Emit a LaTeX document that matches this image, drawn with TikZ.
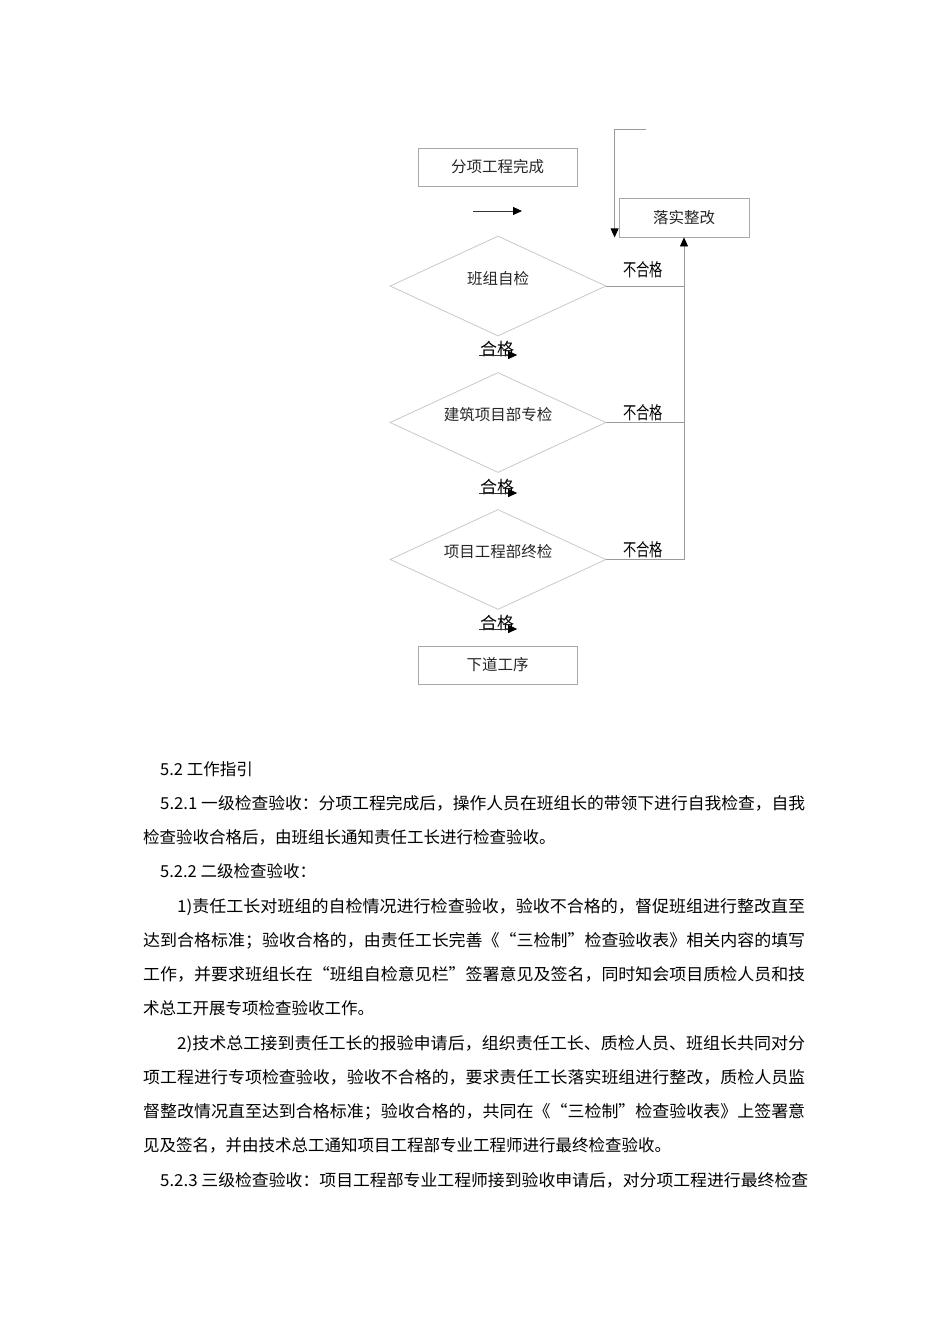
\documentclass[tikz,border=0pt]{standalone}
\usepackage{fontspec}
\setmainfont{Noto Sans CJK SC}
\usepackage{graphicx}
\usetikzlibrary{shapes.geometric,arrows.meta}
\definecolor{boxgray}{HTML}{A8A8A8}
\definecolor{dmdgray}{HTML}{C8C8C8}
\definecolor{linegray}{HTML}{9A9A9A}
\newcommand\fitline[2]{\resizebox{#1}{\height}{#2}}
\tikzset{
  stepbox/.style={draw=boxgray, line width=0.8pt, minimum width=159pt, minimum height=38pt, inner sep=0pt,
    font=\fontsize{15.5}{16}\selectfont, text=black!85},
  chkbox/.style={diamond, draw=dmdgray, line width=0.8pt, aspect=2.16, minimum width=216pt, minimum height=100pt,
    inner sep=0pt, text height=12pt, text depth=16pt, font=\fontsize{15.5}{16}\selectfont, text=black!85},
  failtxt/.style={inner sep=0pt, font=\fontsize{17}{17}\selectfont},
  passtxt/.style={anchor=base, inner sep=0pt, font=\fontsize{17}{17}\selectfont},
  bodytxt/.style={anchor=base west, inner sep=0pt, font=\fontsize{16.5}{17}\selectfont},
  blk/.style={line width=0.8pt, -{Triangle[length=9pt,width=8pt,color=black]}}
}
\begin{document}
\begin{tikzpicture}[x=1pt,y=-1pt]
\useasboundingbox (0,0) rectangle (950,1344);
% flow chart
\node[stepbox] (start) at (497.5,167) {分项工程完成};
\node[stepbox, minimum width=130pt, minimum height=39pt] (fix) at (684,217.5) {落实整改};
\node[chkbox] (chk1) at (498,286) {班组自检};
\node[chkbox] (chk2) at (498,422.5) {建筑项目部专检};
\node[chkbox] (chk3) at (498,559.5) {项目工程部终检};
\node[stepbox] (next) at (497.5,665) {下道工序};
\node[failtxt] (fail1) at (643,270) {\scalebox{0.78}[1.05]{不合格}};
\node[failtxt] (fail2) at (643,413) {\scalebox{0.78}[1.05]{不合格}};
\node[failtxt] (fail3) at (643,550) {\scalebox{0.78}[1.05]{不合格}};
\node[passtxt] (pass1) at (497,355) {合格};
\node[passtxt] (pass2) at (497,493) {合格};
\node[passtxt] (pass3) at (497,629) {合格};
\coordinate (s0) at (473,211);
\coordinate (s1) at (522,211);
\coordinate (loop) at (646,129);
\draw[blk, black!80] (s0) -- (s1);
\draw[blk, linegray] (loop) -| ([xshift=-4pt]fix.south west);
\draw[line width=0.8pt, linegray] (chk1.east) -- (chk1.east -| fix.south);
\draw[line width=0.8pt, linegray] (chk2.east) -- (chk2.east -| fix.south);
\draw[blk, linegray] (chk3.east) -| (fix.south);
\foreach \p in {pass1,pass2,pass3}
  \draw[blk, black!80] ([xshift=-1pt]\p.base west) -- ([xshift=3pt]\p.base east);
% text
\node[bodytxt] (t1) at (160,775) {5.2 工作指引};
\node[bodytxt] (t2) at (160,809) {\fitline{645pt}{5.2.1 一级检查验收：分项工程完成后，操作人员在班组长的带领下进行自我检查，自我}};
\node[bodytxt] (t3) at (143,843) {检查验收合格后，由班组长通知责任工长进行检查验收。};
\node[bodytxt] (t4) at (160,877) {5.2.2 二级检查验收：};
\node[bodytxt] (t5) at (177,912) {\fitline{628pt}{1)责任工长对班组的自检情况进行检查验收，验收不合格的，督促班组进行整改直至}};
\node[bodytxt] (t6) at (143,946) {\fitline{662pt}{达到合格标准；验收合格的，由责任工长完善《“三检制”检查验收表》相关内容的填写}};
\node[bodytxt] (t7) at (143,980) {\fitline{662pt}{工作，并要求班组长在“班组自检意见栏”签署意见及签名，同时知会项目质检人员和技}};
\node[bodytxt] (t8) at (143,1014) {术总工开展专项检查验收工作。};
\node[bodytxt] (t9) at (177,1049) {\fitline{628pt}{2)技术总工接到责任工长的报验申请后，组织责任工长、质检人员、班组长共同对分}};
\node[bodytxt] (t10) at (143,1083) {\fitline{662pt}{项工程进行专项检查验收，验收不合格的，要求责任工长落实班组进行整改，质检人员监}};
\node[bodytxt] (t11) at (143,1117) {\fitline{662pt}{督整改情况直至达到合格标准；验收合格的，共同在《“三检制”检查验收表》上签署意}};
\node[bodytxt] (t12) at (143,1151) {见及签名，并由技术总工通知项目工程部专业工程师进行最终检查验收。};
\node[bodytxt] (t13) at (160,1186) {\fitline{648pt}{5.2.3 三级检查验收：项目工程部专业工程师接到验收申请后，对分项工程进行最终检查}};
\end{tikzpicture}
\end{document}
